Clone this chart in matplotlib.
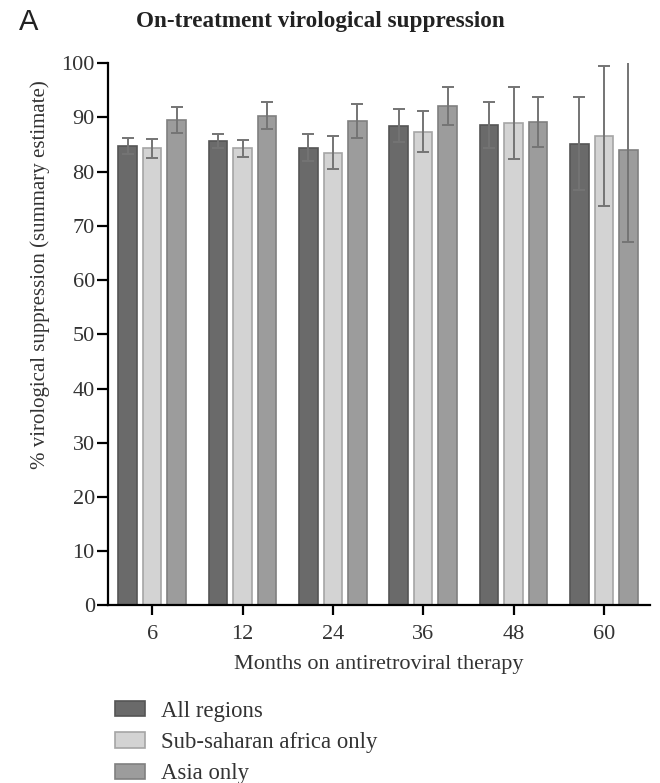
import numpy as np
import matplotlib
matplotlib.use('Agg')
import matplotlib.pyplot as plt
from matplotlib.patches import Patch

plt.rcParams['font.family'] = 'Liberation Serif'

months = ['6', '12', '24', '36', '48', '60']
series = ['All regions', 'Sub-saharan africa only', 'Asia only']

# summary estimates (%) and half-width of the confidence interval
all_regions = [84.8, 85.7, 84.4, 88.5, 88.6, 85.2]
all_regions_err = [1.5, 1.3, 2.5, 3.0, 4.3, 8.5]
ssa_only = [84.3, 84.3, 83.5, 87.4, 89.0, 86.6]
ssa_only_err = [1.7, 1.6, 3.0, 3.8, 6.7, 12.9]
asia_only = [89.5, 90.3, 89.4, 92.2, 89.1, 84.0]
asia_only_err = [2.4, 2.5, 3.1, 3.5, 4.6, 17.0]

face = ['#6a6a6a', '#d3d3d3', '#9c9c9c']
edge = ['#555555', '#a5a5a5', '#808080']
txt = '#333333'

fig = plt.figure(figsize=(6.6, 7.83), dpi=100)
ax = fig.add_axes([0.1636, 0.2267, 0.8212, 0.6925])

x = np.arange(len(months))
pitch = 0.271
width = 0.205
vals = [all_regions, ssa_only, asia_only]
errs = [all_regions_err, ssa_only_err, asia_only_err]
for i in range(3):
    ax.bar(x + (i - 1) * pitch, vals[i], width, color=face[i], edgecolor=edge[i],
           linewidth=1.2, yerr=errs[i], ecolor='#747474',
           error_kw=dict(elinewidth=1.4, capsize=4, capthick=1.4, zorder=3))

ax.set_xlim(-0.49, 5.51)
ax.set_ylim(0, 100)
ax.set_yticks(np.arange(0, 101, 10))
ax.set_xticks(x)
ax.set_xticklabels(months)

for s in ['top', 'right']:
    ax.spines[s].set_visible(False)
for s in ['left', 'bottom']:
    ax.spines[s].set_linewidth(1.6)
ax.tick_params(axis='both', direction='out', width=1.6,
               labelsize=16, color='black', labelcolor=txt)
ax.tick_params(axis='y', length=8, pad=1.5)
ax.tick_params(axis='x', length=7, pad=7.3)

ax.set_xlabel('Months on antiretroviral therapy', fontsize=16, color=txt,
              labelpad=8)
ax.set_ylabel('% virological suppression (summary estimate)', fontsize=15,
              color=txt)
ax.yaxis.set_label_coords(-0.107, 0.61)

fig.text(0.485, 0.972, 'On-treatment virological suppression', ha='center',
         va='center', fontsize=16.7, fontweight='bold', color='#222222')
fig.text(0.029, 0.972, 'A', ha='left', va='center', fontsize=21,
         family='Liberation Sans', color='#222222')

handles = [Patch(facecolor=face[i], edgecolor=edge[i], linewidth=1.2)
           for i in range(3)]
fig.legend(handles, series, loc='upper left', bbox_to_anchor=(0.174, 0.105),
           frameon=False, fontsize=16.4, handlelength=1.32, handleheight=0.66,
           labelspacing=0.45, handletextpad=0.7, borderpad=0, borderaxespad=0,
           labelcolor=txt)

fig.savefig('out.png', dpi=100)
